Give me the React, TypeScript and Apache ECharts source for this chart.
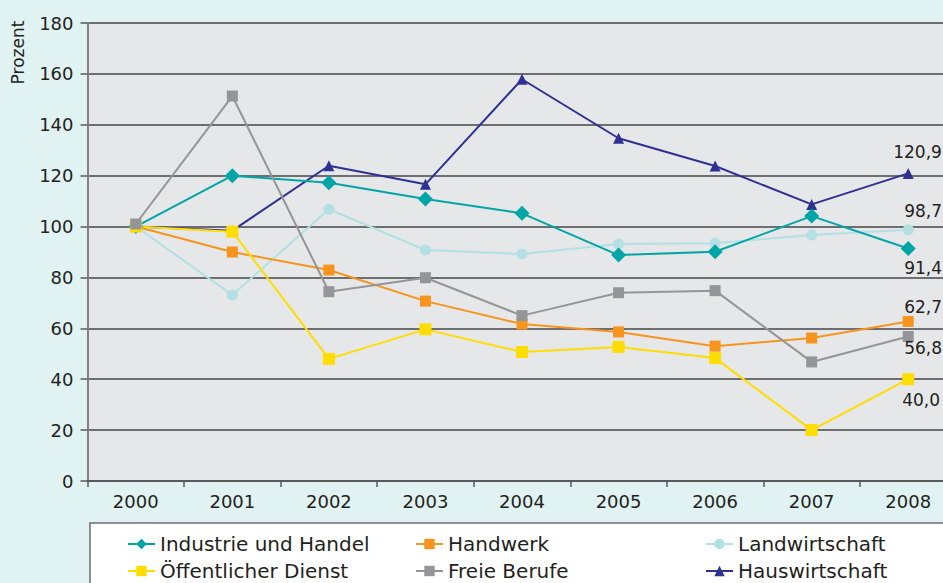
import React, { useEffect, useRef } from "react";
import * as echarts from "echarts";

const years = ["2000", "2001", "2002", "2003", "2004", "2005", "2006", "2007", "2008"];
const yTicks = { min: 0, max: 180, interval: 20 };

const seriesNames = [
  "Industrie und Handel",
  "Handwerk",
  "Landwirtschaft",
  "Öffentlicher Dienst",
  "Freie Berufe",
  "Hauswirtschaft",
];

const industrie = [100, 120.0, 117.2, 110.8, 105.2, 88.8, 90.1, 104.1, 91.4];
const handwerk = [100, 90.0, 82.9, 70.7, 61.7, 58.6, 53.0, 56.2, 62.7];
const landwirtschaft = [100, 73.1, 106.8, 90.8, 89.2, 93.1, 93.4, 96.7, 98.7];
const oeffentlich = [100, 98.0, 48.0, 59.6, 50.7, 52.7, 48.3, 20.0, 40.0];
const freie = [101, 151.3, 74.4, 79.9, 65.0, 74.0, 74.8, 46.8, 56.8];
const haus = [100, 98.4, 123.9, 116.6, 157.9, 134.7, 123.8, 108.7, 120.9];

const FONT = "DejaVu Sans";
const TEXT = "#231f20";

type Cfg = {
  name: string;
  data: number[];
  color: string;
  symbol: string;
  size: number;
  ox: number;
  oy: number;
};

const configs: Cfg[] = [
  { name: seriesNames[2], data: landwirtschaft, color: "#b2e0e3", symbol: "circle", size: 11, ox: -4, oy: -19 },
  { name: seriesNames[5], data: haus, color: "#2e3192", symbol: "triangle", size: 11, ox: -15, oy: -21 },
  { name: seriesNames[0], data: industrie, color: "#00a6a6", symbol: "diamond", size: 15, ox: -4, oy: 20 },
  { name: seriesNames[1], data: handwerk, color: "#f7941d", symbol: "rect", size: 11, ox: -4, oy: -14 },
  { name: seriesNames[3], data: oeffentlich, color: "#ffdd00", symbol: "rect", size: 12, ox: -6, oy: 21 },
  { name: seriesNames[4], data: freie, color: "#939598", symbol: "rect", size: 11, ox: -4, oy: 12 },
];

const fmt = (v: number) => v.toFixed(1).replace(".", ",");

const legendPlaces = [
  { left: 127, top: 534 },
  { left: 415, top: 534 },
  { left: 705, top: 534 },
  { left: 127, top: 561 },
  { left: 415, top: 561 },
  { left: 705, top: 561 },
];

export default function App() {
  const ref = useRef<HTMLDivElement>(null);
  useEffect(() => {
    document.body.style.margin = "0";
    if (!ref.current) return;
    const chart = echarts.init(ref.current, null, { renderer: "svg" });
    const series = configs.map((c) => ({
      name: c.name,
      type: "line",
      data: c.data.map((v, i) =>
        i === c.data.length - 1
          ? {
              value: v,
              label: {
                show: true,
                position: [c.ox + c.size / 2, c.oy + c.size / 2],
                align: "left",
                verticalAlign: "middle",
                formatter: () => fmt(v),
                fontFamily: FONT,
                fontSize: 17,
                color: TEXT,
              },
            }
          : v
      ),
      symbol: c.symbol,
      symbolSize: c.size,
      showAllSymbol: true,
      itemStyle: { color: c.color },
      lineStyle: { color: c.color, width: 2 },
      emphasis: { disabled: true },
    }));
    const option: any = {
      animation: false,
      backgroundColor: "#e0f2f2",
      textStyle: { fontFamily: FONT },
      graphic: [
        {
          type: "rect",
          z: 0,
          shape: { x: 90, y: 523, width: 900, height: 100 },
          style: { fill: "#ffffff", stroke: "#6d6e71", lineWidth: 1.5 },
        },
        {
          type: "text",
          x: 17.5,
          y: 52.5,
          rotation: Math.PI / 2,
          style: {
            text: "Prozent",
            align: "center",
            verticalAlign: "middle",
            fontFamily: FONT,
            fontSize: 17,
            fill: TEXT,
          },
        },
      ],
      legend: seriesNames.map((n, i) => ({
        data: [n],
        left: legendPlaces[i].left,
        top: legendPlaces[i].top,
        padding: 0,
        itemWidth: 27,
        itemHeight: 13,
        itemGap: 0,
        textStyle: { fontFamily: FONT, fontSize: 20, color: TEXT },
        selectedMode: false,
      })),
      grid: {
        left: 87.5,
        top: 23,
        width: 869,
        height: 458,
        outerBoundsMode: "none",
        containLabel: false,
        show: true,
        backgroundColor: "#e6e7e8",
        borderWidth: 0,
      },
      xAxis: {
        type: "category",
        data: years,
        boundaryGap: true,
        axisLine: { lineStyle: { color: "#58595b", width: 2 } },
        axisTick: { show: true, length: 6, lineStyle: { color: "#58595b", width: 1.5 } },
        axisLabel: { fontFamily: FONT, fontSize: 18, color: TEXT, margin: 11 },
        splitLine: { show: false },
      },
      yAxis: {
        type: "value",
        min: yTicks.min,
        max: yTicks.max,
        interval: yTicks.interval,
        axisLine: { show: true, lineStyle: { color: "#808285", width: 2 } },
        axisTick: { show: true, length: 7, lineStyle: { color: "#58595b", width: 1.5 } },
        axisLabel: { fontFamily: FONT, fontSize: 18, color: TEXT, margin: 14 },
        splitLine: { show: true, lineStyle: { color: "#6d6e71", width: 2 } },
      },
      series,
    };
    chart.setOption(option);
    return () => chart.dispose();
  }, []);
  return <div ref={ref} style={{ width: 943, height: 583 }} />;
}
